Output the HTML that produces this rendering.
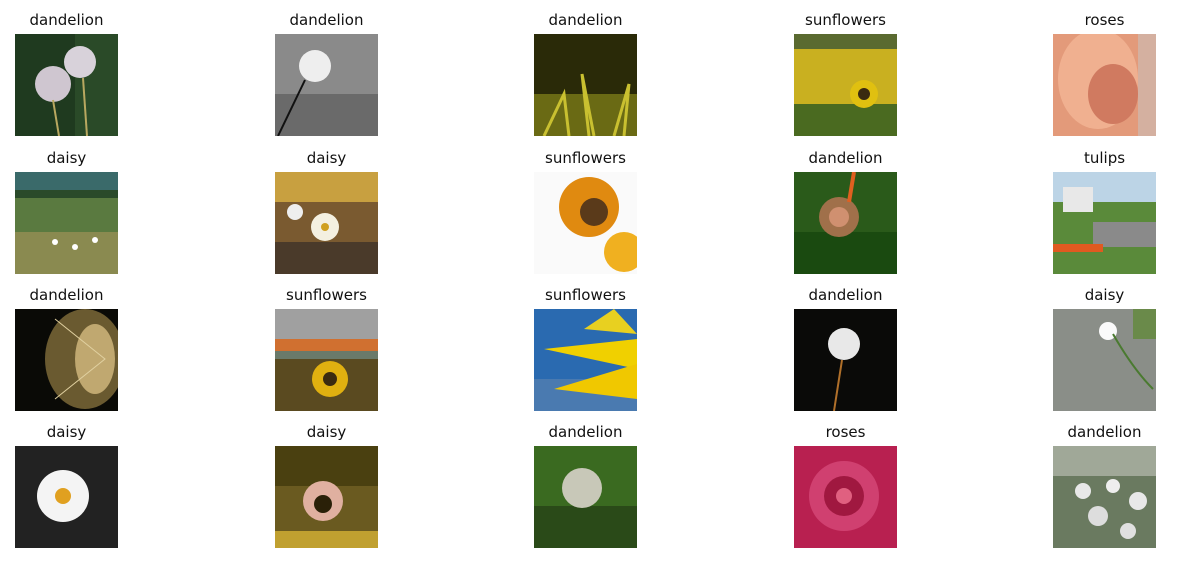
<!DOCTYPE html>
<html><head><meta charset="utf-8"><style>
body{margin:0;width:1177px;height:565px;background:#fff;position:relative;overflow:hidden;font-family:"DejaVu Sans","Liberation Sans",sans-serif}
.cell{position:absolute;width:103px}
.t{position:absolute;top:-23px;left:-40px;width:183px;text-align:center;font-size:15px;color:#111;white-space:nowrap}
svg{display:block;width:103px;height:102px}
</style></head><body>
<div id="grid"></div>
<script>
const titles=["dandelion","dandelion","dandelion","sunflowers","roses","daisy","daisy","sunflowers","dandelion","tulips","dandelion","sunflowers","sunflowers","dandelion","daisy","daisy","daisy","dandelion","roses","dandelion"];
const arts=[
'<rect width="103" height="102" fill="#1f3a1f"/><rect x="60" width="43" height="102" fill="#2a4a28"/><circle cx="38" cy="50" r="18" fill="#cfc6d0"/><circle cx="65" cy="28" r="16" fill="#d8d2da"/><line x1="38" y1="66" x2="44" y2="102" stroke="#b9a860" stroke-width="2"/><line x1="68" y1="44" x2="72" y2="102" stroke="#b9a860" stroke-width="2"/>',
'<rect width="103" height="102" fill="#8a8a8a"/><rect x="0" y="60" width="103" height="42" fill="#6a6a6a"/><circle cx="40" cy="32" r="16" fill="#eee"/><line x1="30" y1="46" x2="3" y2="102" stroke="#111" stroke-width="2"/>',
'<rect width="103" height="102" fill="#2a2a08"/><rect y="60" width="103" height="42" fill="#6a6a14"/><path d="M10 102 L30 60 L35 102 M55 102 L48 40 L60 102 M80 102 L95 50 L90 102" stroke="#c9c030" stroke-width="3" fill="none"/>',
'<rect width="103" height="102" fill="#c9b020"/><rect y="0" width="103" height="15" fill="#5a6a30"/><rect y="70" width="103" height="32" fill="#4a6a20"/><circle cx="70" cy="60" r="14" fill="#e0c010"/><circle cx="70" cy="60" r="6" fill="#3a2a10"/>',
'<rect width="103" height="102" fill="#e39a7a"/><ellipse cx="45" cy="45" rx="40" ry="50" fill="#f0b090"/><ellipse cx="60" cy="60" rx="25" ry="30" fill="#d07a60"/><rect x="85" width="18" height="102" fill="#d4b0a0"/>',
'<rect width="103" height="102" fill="#5a7a40"/><rect width="103" height="20" fill="#3a6a6a"/><rect y="18" width="103" height="8" fill="#2a4a2a"/><rect y="60" width="103" height="42" fill="#8a8a50"/><circle cx="40" cy="70" r="3" fill="#fff"/><circle cx="60" cy="75" r="3" fill="#fff"/><circle cx="80" cy="68" r="3" fill="#fff"/>',
'<rect width="103" height="102" fill="#7a5a30"/><rect width="103" height="30" fill="#c8a040"/><rect y="70" width="103" height="32" fill="#4a3a2a"/><circle cx="50" cy="55" r="14" fill="#f4f0e0"/><circle cx="50" cy="55" r="4" fill="#d0a020"/><circle cx="20" cy="40" r="8" fill="#eee"/>',
'<rect width="103" height="102" fill="#fafafa"/><circle cx="55" cy="35" r="30" fill="#e08a10"/><circle cx="60" cy="40" r="14" fill="#5a3a1a"/><circle cx="90" cy="80" r="20" fill="#f0b020"/>',
'<rect width="103" height="102" fill="#2a5a1a"/><rect y="60" width="103" height="42" fill="#1a4a10"/><circle cx="45" cy="45" r="20" fill="#a0704a"/><circle cx="45" cy="45" r="10" fill="#d09070"/><line x1="60" y1="0" x2="55" y2="30" stroke="#e06020" stroke-width="4"/>',
'<rect width="103" height="102" fill="#bcd4e6"/><rect y="30" width="103" height="72" fill="#5a8a3a"/><rect x="40" y="50" width="63" height="25" fill="#8a8a8a"/><rect y="72" width="50" height="8" fill="#e05a20"/><rect x="10" y="15" width="30" height="25" fill="#e8e8e8"/>',
'<rect width="103" height="102" fill="#0a0a06"/><ellipse cx="70" cy="50" rx="40" ry="50" fill="#6a5a30"/><ellipse cx="80" cy="50" rx="20" ry="35" fill="#c0a870"/><path d="M40 10 L90 50 L40 90" stroke="#e0d0a0" fill="none"/>',
'<rect width="103" height="102" fill="#6a7a6a"/><rect width="103" height="40" fill="#a0a0a0"/><rect y="30" width="103" height="12" fill="#d07030"/><rect y="50" width="103" height="52" fill="#5a4a20"/><circle cx="55" cy="70" r="18" fill="#e0b010"/><circle cx="55" cy="70" r="7" fill="#3a2a10"/>',
'<rect width="103" height="102" fill="#2a6ab0"/><rect y="70" width="103" height="32" fill="#4a7ab0"/><path d="M103 30 L10 40 L103 60 Z" fill="#f0d000"/><path d="M103 55 L20 80 L103 90 Z" fill="#f0c800"/><path d="M80 0 L50 20 L103 25 Z" fill="#e8d020"/>',
'<rect width="103" height="102" fill="#0a0a08"/><circle cx="50" cy="35" r="16" fill="#e8e8e8"/><line x1="48" y1="51" x2="40" y2="102" stroke="#b0702a" stroke-width="2"/>',
'<rect width="103" height="102" fill="#8a8e88"/><circle cx="55" cy="22" r="9" fill="#fafafa"/><path d="M60 25 Q80 60 100 80" stroke="#4a7a30" stroke-width="2" fill="none"/><rect x="80" width="23" height="30" fill="#6a8a4a"/>',
'<rect width="103" height="102" fill="#222"/><circle cx="48" cy="50" r="26" fill="#f4f4f4"/><circle cx="48" cy="50" r="8" fill="#e0a020"/>',
'<rect width="103" height="102" fill="#6a5a20"/><rect width="103" height="40" fill="#4a4010"/><circle cx="48" cy="55" r="20" fill="#e0b0a0"/><circle cx="48" cy="58" r="9" fill="#2a2008"/><rect y="85" width="103" height="17" fill="#c0a030"/>',
'<rect width="103" height="102" fill="#3a6a20"/><rect y="60" width="103" height="42" fill="#2a4a18"/><circle cx="48" cy="42" r="20" fill="#c8c8b8"/>',
'<rect width="103" height="102" fill="#b82050"/><circle cx="50" cy="50" r="35" fill="#d04070"/><circle cx="50" cy="50" r="20" fill="#a01840"/><circle cx="50" cy="50" r="8" fill="#e06080"/>',
'<rect width="103" height="102" fill="#6a7a60"/><rect width="103" height="30" fill="#a0a898"/><circle cx="30" cy="45" r="8" fill="#e8e8e8"/><circle cx="60" cy="40" r="7" fill="#eee"/><circle cx="85" cy="55" r="9" fill="#e8e8e8"/><circle cx="45" cy="70" r="10" fill="#ddd"/><circle cx="75" cy="85" r="8" fill="#e0e0e0"/>'
];
const colX=[15,275,534,794,1053];
const rowY=[34,172,309,446];
const grid=document.getElementById('grid');
titles.forEach((t,i)=>{
  const d=document.createElement('div');
  d.className='cell';
  d.style.left=colX[i%5]+'px';
  d.style.top=rowY[Math.floor(i/5)]+'px';
  
  
  d.innerHTML='<div class="t">'+t+'</div><svg viewBox="0 0 103 102" preserveAspectRatio="none">'+arts[i]+'</svg>';
  const tt=d.querySelector('.t');
  
  
  const sv=d.querySelector('svg');
  
  
  grid.appendChild(d);
});
</script>
</body></html>
